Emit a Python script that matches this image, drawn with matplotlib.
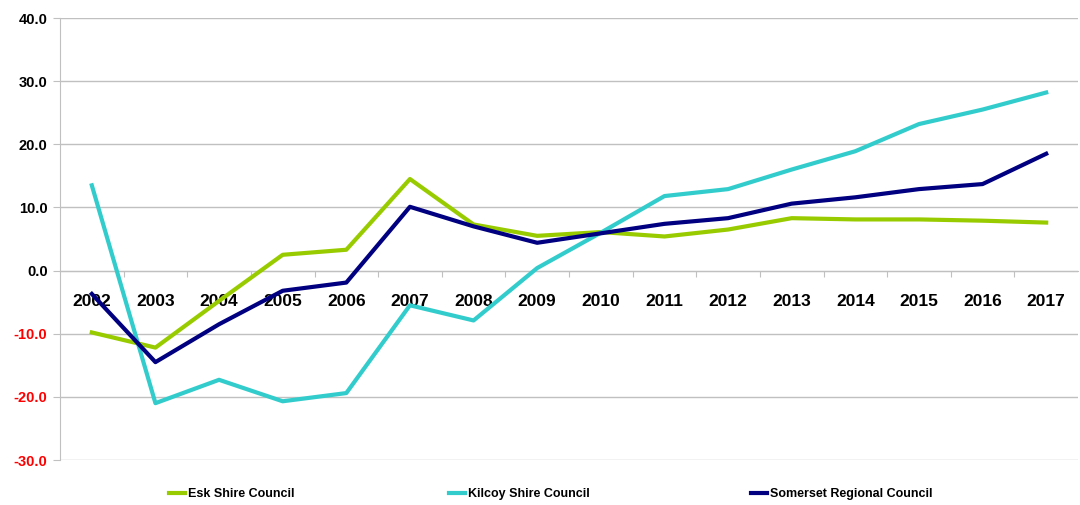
import matplotlib
matplotlib.use("Agg")
import matplotlib.pyplot as plt
from matplotlib.ticker import FixedLocator, NullFormatter

years = ["2002", "2003", "2004", "2005", "2006", "2007", "2008", "2009",
         "2010", "2011", "2012", "2013", "2014", "2015", "2016", "2017"]

esk = [-9.8, -12.2, -4.8, 2.5, 3.3, 14.5, 7.3, 5.5,
       6.1, 5.4, 6.5, 8.3, 8.1, 8.1, 7.9, 7.6]
kilcoy = [13.5, -21.0, -17.3, -20.7, -19.4, -5.5, -7.9, 0.4,
          6.0, 11.8, 12.9, 16.0, 18.9, 23.2, 25.5, 28.2]
somerset = [-3.7, -14.5, -8.5, -3.2, -1.9, 10.1, 7.0, 4.4,
            5.9, 7.4, 8.3, 10.6, 11.6, 12.9, 13.7, 18.5]

y_ticks = [-30, -20, -10, 0, 10, 20, 30, 40]

green = "#99CC00"
cyan = "#33CCCC"
navy = "#000080"
grey = "#C0C0C0"

plt.rcParams['font.family'] = ['Liberation Sans', 'DejaVu Sans']

fig = plt.figure(figsize=(10.8, 5.05), dpi=100)
ax = fig.add_axes([60 / 1080, 1 - 460 / 505, 1 - 62 / 1080, (460 - 18) / 505])

x = list(range(len(years)))
l1, = ax.plot(x, esk, color=green, linewidth=3, label="Esk Shire Council", zorder=3)
l2, = ax.plot(x, kilcoy, color=cyan, linewidth=3, label="Kilcoy Shire Council", zorder=3)
l3, = ax.plot(x, somerset, color=navy, linewidth=3, label="Somerset Regional Council", zorder=3)

ax.set_xlim(-0.5, len(years) - 0.5)
ax.set_ylim(-30, 40)
ax.set_yticks(y_ticks)
ax.set_yticklabels(["%.1f" % v for v in y_ticks], fontweight="bold", fontsize=10.5)
for lab, v in zip(ax.get_yticklabels(), y_ticks):
    lab.set_color("red" if v < 0 else "black")
ax.yaxis.grid(True, color=grey, linewidth=1)
ax.set_axisbelow(True)
ax.tick_params(axis="y", length=5, color=grey, pad=4)

# category axis sits on the zero line
ax.spines["bottom"].set_position(("data", 0))
ax.spines["bottom"].set_color(grey)
ax.spines["left"].set_color(grey)
ax.spines["top"].set_visible(False)
ax.spines["right"].set_visible(False)
ax.xaxis.set_major_locator(FixedLocator([i + 0.5 for i in range(len(years) - 1)]))
ax.xaxis.set_major_formatter(NullFormatter())
ax.xaxis.set_minor_locator(FixedLocator(x))
ax.set_xticklabels(years, minor=True, fontweight="bold", fontsize=12.5)
ax.tick_params(axis="x", which="major", length=4, color=grey, direction="out")
ax.tick_params(axis="x", which="minor", length=0, pad=17)

legend_x = [163 / 1080, 443 / 1080, 745 / 1080]
for h, lx in zip([l1, l2, l3], legend_x):
    fig.legend(handles=[h], loc="center left", bbox_to_anchor=(lx - 0.005, 1 - 494 / 505),
               frameon=False, handlelength=1.3, handletextpad=0.2,
               prop={"weight": "bold", "size": 9})

fig.savefig("out.png", dpi=100)
